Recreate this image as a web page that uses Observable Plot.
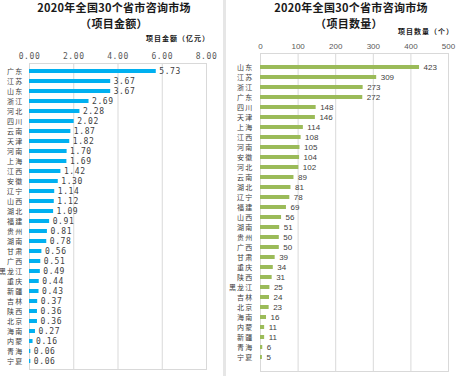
<!DOCTYPE html>
<html><head><meta charset="utf-8">
<script src="https://cdn.jsdelivr.net/npm/d3@7"></script>
<script src="https://cdn.jsdelivr.net/npm/@observablehq/plot@0.6"></script>
<style>
body{margin:0;background:#fff;width:460px;height:376px;overflow:hidden;position:relative;font-family:"Noto Sans CJK SC",sans-serif;}
.t{position:absolute;font-weight:bold;color:#1a1a1a;white-space:nowrap;transform:translateX(-50%);font-size:11px;line-height:11px;letter-spacing:0.3px;}
.al{position:absolute;font-weight:bold;color:#1a1a1a;white-space:nowrap;font-size:7px;line-height:9px;letter-spacing:1px;}
.sep{position:absolute;left:223px;top:0;width:3px;height:376px;background:#e6e6e6;}
.p{position:absolute;}
.p svg{overflow:visible;}
[aria-label="y-axis tick label"] text{letter-spacing:1.2px;}
.amt text{letter-spacing:0.6px;}
</style></head><body>
<div class="sep"></div>
<div class="t" style="left:114px;top:2px;">2020年全国30个省市咨询市场</div>
<div class="t" style="left:114px;top:18px;">（项目金额）</div>
<div class="al" style="right:250px;top:34px;">项目金额（亿元）</div>
<div class="t" style="left:351px;top:2px;">2020年全国30个省市咨询市场</div>
<div class="t" style="left:349px;top:18px;">（项目数量）</div>
<div class="al" style="right:6px;top:27px;">项目数量（个）</div>
<div id="left" class="p" style="left:0;top:46px;"></div>
<div id="right" class="p" style="left:230px;top:36px;"></div>
<script>
const amountNames = ["广东","江苏","山东","浙江","河北","四川","云南","天津","河南","上海","江西","安徽","辽宁","山西","湖北","福建","贵州","湖南","甘肃","广西","黑龙江","重庆","新疆","吉林","陕西","北京","海南","内蒙","青海","宁夏"];
const amountValues = [5.73,3.67,3.67,2.69,2.28,2.02,1.87,1.82,1.70,1.69,1.42,1.30,1.14,1.12,1.09,0.91,0.81,0.78,0.56,0.51,0.49,0.44,0.43,0.37,0.36,0.36,0.27,0.16,0.06,0.06];
const countNames = ["山东","江苏","浙江","广东","四川","天津","上海","江西","河南","安徽","河北","云南","湖北","辽宁","福建","山西","湖南","贵州","广西","甘肃","重庆","陕西","黑龙江","吉林","北京","海南","内蒙","新疆","青海","宁夏"];
const countValues = [423,309,273,272,148,146,114,108,105,104,102,89,81,78,69,56,51,50,50,39,34,31,25,24,23,16,11,11,6,5];
const amountTicks = [0,2,4,6,8];
const countTicks = [0,100,200,300,400,500];

const amountData = amountNames.map((n,i)=>({name:n,value:amountValues[i]}));
const countData = countNames.map((n,i)=>({name:n,value:countValues[i]}));

const gray = "#595959";
const leftPlot = Plot.plot({
  width: 225, height: 330,
  marginTop: 17, marginBottom: 7, marginLeft: 29, marginRight: 19,
  style: {fontFamily: "'Noto Sans CJK SC', sans-serif", background: "transparent"},
  x: {domain: [0, 8], ticks: amountTicks, label: null},
  y: {domain: amountNames, padding: 0.6, label: null},
  marks: [
    Plot.gridX(amountTicks, {stroke: "#d9d9d9", strokeOpacity: 1}),
    Plot.frame({stroke: "#d9d9d9"}),
    Plot.barX(amountData, {x: "value", y: "name", fill: "#00B0F0"}),
    Plot.text(amountData, {x: "value", y: "name", text: d => d.value.toFixed(2), dx: 3, textAnchor: "start", fontSize: 8, fill: "#404040", className: "amt", fontFamily: "'DejaVu Sans Mono', monospace"}),
    Plot.axisX(amountTicks, {anchor: "top", label: null, tickSize: 0, tickPadding: 5, fontSize: 8, fill: gray, tickFormat: d => d.toFixed(2), className: "amt", fontFamily: "'DejaVu Sans Mono', monospace"}),
    Plot.axisY({label: null, tickSize: 0, tickPadding: 6, fontSize: 7, fill: "#404040"})
  ]
});
document.getElementById("left").appendChild(leftPlot);

const rightPlot = Plot.plot({
  width: 230, height: 340,
  marginTop: 17, marginBottom: 5, marginLeft: 30, marginRight: 12,
  style: {fontFamily: "'Liberation Sans', Arial, sans-serif", background: "transparent"},
  x: {domain: [0, 500], ticks: countTicks, label: null},
  y: {domain: countNames, padding: 0.62, label: null},
  marks: [
    Plot.gridX(countTicks, {stroke: "#d9d9d9", strokeOpacity: 1}),
    Plot.frame({stroke: "#d9d9d9"}),
    Plot.barX(countData, {x: "value", y: "name", fill: "#9BBB59"}),
    Plot.text(countData, {x: "value", y: "name", text: d => String(d.value), dx: 4, textAnchor: "start", fontSize: 8, fill: "#404040"}),
    Plot.axisX(countTicks, {anchor: "top", label: null, tickSize: 0, tickPadding: 5, fontSize: 8, fill: gray, tickFormat: d => String(d)}),
    Plot.axisY({label: null, tickSize: 0, tickPadding: 7, fontSize: 7, fill: "#404040", fontFamily: "'Noto Sans CJK SC', sans-serif"})
  ]
});
document.getElementById("right").appendChild(rightPlot);
</script>
</body></html>
